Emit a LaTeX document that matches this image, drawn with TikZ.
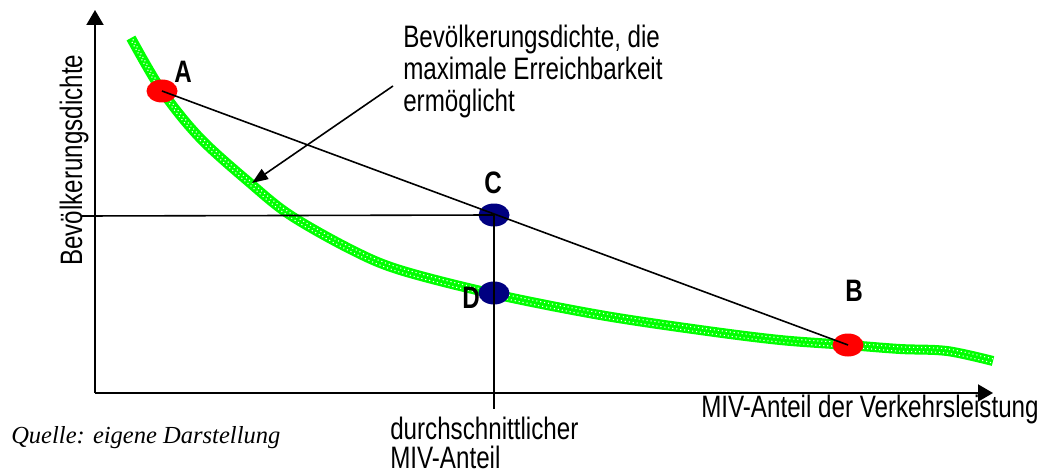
\documentclass[tikz,border=0pt]{standalone}
\usepackage{fontspec}
\newfontfamily\arialn{Liberation Sans}[FakeStretch=0.78]
\newfontfamily\timesf{Liberation Serif}
\usetikzlibrary{arrows.meta,shapes.geometric}
\definecolor{bandgreen}{RGB}{0,255,0}
\definecolor{ptred}{RGB}{255,0,0}
\definecolor{ptblue}{RGB}{0,0,128}
\tikzset{
  axisline/.style={line width=1.5pt, -{Triangle[length=11.25pt,width=12.75pt]}},
  thinline/.style={line width=1.2pt},
  calloutarrow/.style={line width=1.2pt, -{Triangle[length=12pt,width=9pt]}},
  txt/.style={font=\arialn\fontsize{23.25}{24}\selectfont, inner sep=0pt, align=left},
  lbl/.style={font=\arialn\bfseries\fontsize{23.25}{24}\selectfont, inner sep=0pt},
  pt/.style={ellipse, minimum width=23.25pt, minimum height=17.25pt, inner sep=0pt, draw=none},
  redpt/.style={pt, fill=ptred},
  bluept/.style={pt, fill=ptblue},
  band/.style={line width=7.5pt, bandgreen},
  banddots/.style={line width=0.8pt, white, dash pattern=on 0.8pt off 2.2pt}
}
\begin{document}
\begin{tikzpicture}[x=0.75pt,y=-0.75pt]
\useasboundingbox (0,0) rectangle (1042,474);

% coordinates
\coordinate (origin) at (95,393);
\coordinate (ytip) at (95,10);
\coordinate (xtip) at (993,393);
\coordinate (hstart) at (82,216);
\coordinate (vend) at (494,409);
\coordinate (arrstart) at (393,86);
\coordinate (arrend) at (252,183);

% axes
\draw[axisline] (origin) -- (ytip);
\draw[axisline] (origin) -- (xtip);

% green curve
\def\curvepath{plot[smooth, tension=0.55] coordinates {(131,38) (162,91) (200,138) (250,183) (290,215) (350,249) (400,270) (494,294) (600,315) (700,330) (780,340) (848,345) (900,349) (947,351) (993,361)}}
\draw[band] \curvepath;
\begin{scope}[transform canvas={yshift=1.6pt}]
\draw[banddots] \curvepath;
\end{scope}
\begin{scope}[transform canvas={yshift=-1.6pt}]
\draw[banddots, dash phase=1.5pt] \curvepath;
\end{scope}

% labels
\node[lbl] (labA) at (183,72) {A};
\node[lbl] (labB) at (854,291) {B};
\node[lbl] (labC) at (493,183) {C};
\node[lbl] (labD) at (471,298) {D};

% points
\node[redpt] (A) at (162,91) {};
\node[redpt] (B) at (848,345) {};
\node[bluept] (C) at (494,215) {};
\node[bluept] (D) at (494,293) {};

% lines
\draw[thinline] (A.center) -- (B.center);
\draw[thinline] (hstart) -- (C.center);
\draw[thinline] (C.center) -- (vend);
\draw[calloutarrow] (arrstart) -- (arrend);

% texts
\node[txt, anchor=base west] (note) at (403,112) {Bevölkerungsdichte, die\\maximale Erreichbarkeit\\ermöglicht};
\node[txt, anchor=base west, rotate=90] (ylab) at (82,266) {Bevölkerungsdichte};
\node[txt, anchor=base west] (xlab) at (701,417) {MIV-Anteil der Verkehrsleistung};
\node[font=\arialn\fontsize{23.25}{21.75}\selectfont, inner sep=0pt, align=left, anchor=base west] (avg) at (390,468) {durchschnittlicher\\MIV-Anteil};
\node[font=\timesf\itshape\fontsize{18.4}{20}\selectfont, inner sep=0pt, anchor=base west] (src) at (11,443) {Quelle: eigene Darstellung};
\end{tikzpicture}
\end{document}
